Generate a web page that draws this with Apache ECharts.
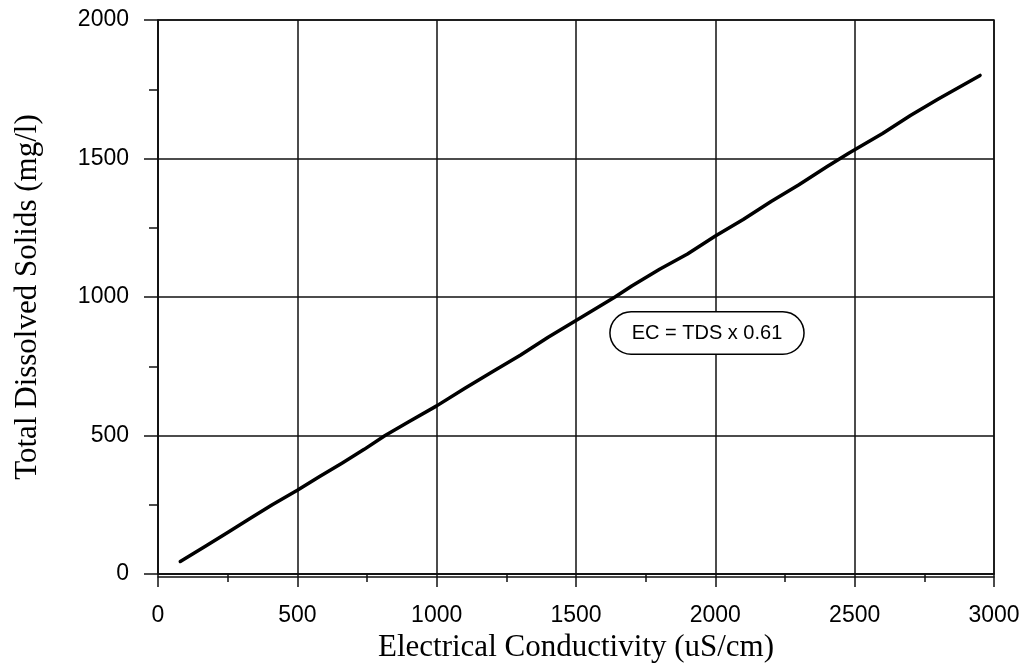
<!DOCTYPE html>
<html>
<head>
<meta charset="utf-8">
<script src="https://cdn.jsdelivr.net/npm/echarts@6/dist/echarts.min.js"></script>
<style>
html,body{margin:0;padding:0;background:#fff;}
#chart{width:1026px;height:668px;}
</style>
</head>
<body>
<div id="chart"></div>
<script>
// Data
var ecValues = [80,170,250,330,410,500,580,660,740,815,900,1000,1100,1200,1300,1400,1500,1640,1700,1800,1900,2000,2100,2200,2300,2400,2480,2600,2700,2800,2950];
var tdsValues = [45,100,150,200,250,302,352,400,450,500,550,607,670,730,790,855,915,1000,1040,1100,1155,1220,1280,1345,1405,1470,1520,1590,1655,1715,1800];
var annotationText = 'EC = TDS x 0.61';
var annotationPos = [1970, 870];
var xTitle = 'Electrical Conductivity (uS/cm)';
var yTitle = 'Total Dissolved Solids (mg/l)';

var lineData = ecValues.map(function(x, i){ return [x, tdsValues[i]]; });

var chart = echarts.init(document.getElementById('chart'), null, {renderer:'canvas'});
var axisColor = '#111';
var plainNum = function(v){ return String(v); };
var labelFont = {fontFamily:'Liberation Sans, Arial, sans-serif', fontSize:23, color:'#000', formatter:plainNum};
var titleFont = {fontFamily:'Liberation Serif, Times New Roman, serif', fontSize:31, color:'#000'};

chart.setOption({
  animation:false,
  backgroundColor:'#fff',
  grid:{left:158, right:32, top:20, bottom:92, show:true, borderColor:axisColor, borderWidth:1.5, backgroundColor:'transparent'},
  xAxis:[{
    type:'value', min:0, max:3000, interval:500,
    name:xTitle, nameLocation:'middle', nameGap:58,
    nameTextStyle:titleFont,
    axisLine:{show:true, onZero:false, lineStyle:{color:axisColor, width:1.5}},
    axisTick:{show:true, inside:false, length:13, lineStyle:{color:axisColor, width:1.5}},
    minorTick:{show:true, splitNumber:2, length:8, lineStyle:{color:axisColor, width:1.5}},
    axisLabel:Object.assign({margin:30}, labelFont),
    splitLine:{show:true, lineStyle:{color:axisColor, width:1.5}}
  },{
    type:'value', min:0, max:3000, position:'bottom', offset:3,
    axisLine:{show:true, onZero:false, lineStyle:{color:axisColor, width:1.5}},
    axisTick:{show:false}, axisLabel:{show:false}, splitLine:{show:false}
  }],
  yAxis:{
    type:'value', min:0, max:2000, interval:500,
    name:yTitle, nameLocation:'middle', nameGap:115,
    nameTextStyle:titleFont,
    axisLine:{show:true, onZero:false, lineStyle:{color:axisColor, width:1.5}},
    axisTick:{show:true, inside:false, length:14, lineStyle:{color:axisColor, width:1.5}},
    minorTick:{show:true, splitNumber:2, length:9, lineStyle:{color:axisColor, width:1.5}},
    axisLabel:Object.assign({margin:29}, labelFont),
    splitLine:{show:true, lineStyle:{color:axisColor, width:1.5}}
  },
  series:[{
    type:'line', data:lineData, showSymbol:false, symbol:'none',
    lineStyle:{color:'#000', width:3.5, cap:'round', join:'round'},
    z:3
  },{
    type:'scatter', data:[annotationPos], symbolSize:0, z:5,
    itemStyle:{opacity:1, color:'#000'},
    emphasis:{disabled:true},
    label:{
      show:true, position:'inside', formatter:annotationText, opacity:1,
      fontFamily:'Liberation Sans, Arial, sans-serif', fontSize:20, color:'#000',
      backgroundColor:'#fff', borderColor:'#000', borderWidth:1.5, borderRadius:21,
      padding:[11,21,10,21]
    }
  }]
});
</script>
</body>
</html>
